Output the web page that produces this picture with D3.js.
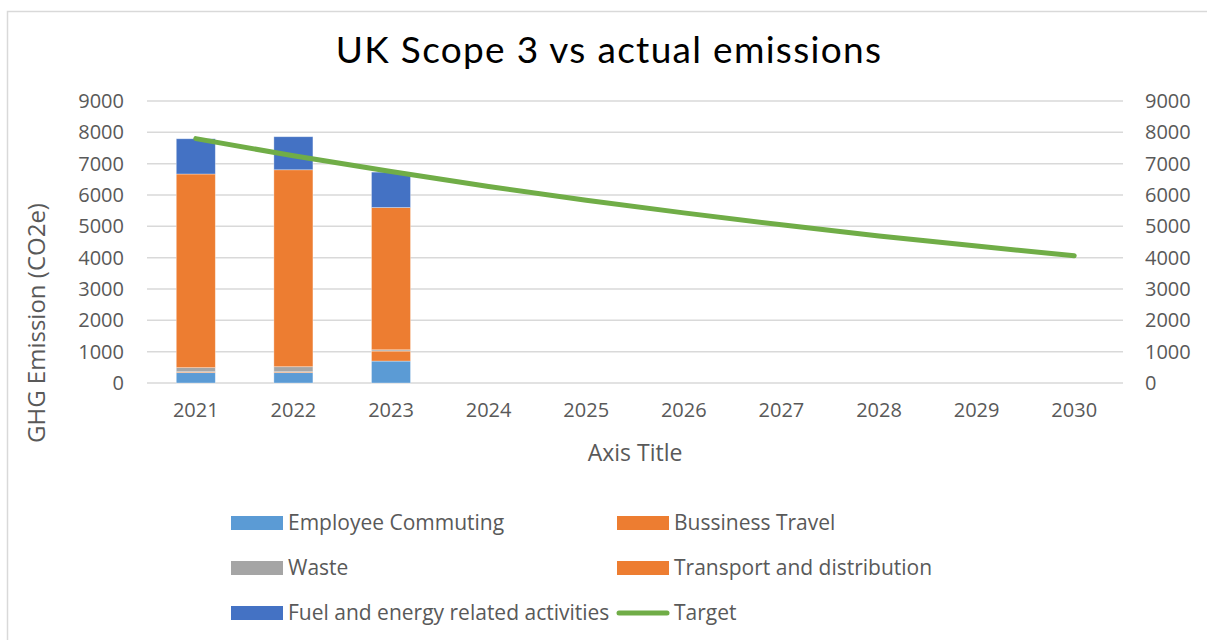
<!DOCTYPE html>
<html>
<head>
<meta charset="utf-8">
<script src="https://cdn.jsdelivr.net/npm/d3@7"></script>
<style>
  body { margin: 0; background: #fff; }
  text { font-family: "Open Sans", sans-serif; fill: #595959; }
</style>
</head>
<body>
<div id="container"></div>
<script>
var width = 1207,
    height = 640,
    margin = { left: 147, top: 101, right: 84, bottom: 257 },
    gWidth = width - margin.left - margin.right,
    gHeight = height - margin.top - margin.bottom;

// data
var years = ['2021', '2022', '2023', '2024', '2025', '2026', '2027', '2028', '2029', '2030'];
var employeeCommuting = [330, 330, 700];
var bussinessTravel = [30, 30, 320];
var waste = [130, 160, 40];
var transport = [6180, 6285, 4540];
var fuelEnergy = [1125, 1055, 1130];
var target = [7800, 7250, 6750, 6270, 5830, 5430, 5050, 4690, 4370, 4060];
var yTicks = [0, 1000, 2000, 3000, 4000, 5000, 6000, 7000, 8000, 9000];

var seriesNames = ['Employee Commuting', 'Bussiness Travel', 'Waste', 'Transport and distribution', 'Fuel and energy related activities'];
var seriesValues = [employeeCommuting, bussinessTravel, waste, transport, fuelEnergy];
var colors = ['#5B9BD5', '#ED7D31', '#A5A5A5', '#ED7D31', '#4472C4'];

var svg = d3.select('#container')
    .append('svg')
    .attr('width', width)
    .attr('height', height);

// chart frame
svg.append('rect')
    .attr('x', 7.5).attr('y', 11.5)
    .attr('width', 1220).attr('height', 650)
    .attr('fill', 'none')
    .attr('stroke', '#D9D9D9')
    .attr('stroke-width', 1.5);

var g = svg.append('g')
    .attr('transform', 'translate(' + margin.left + ',' + margin.top + ')');

var scaleX = d3.scaleBand()
    .domain(years)
    .range([0, gWidth])
    .paddingInner(0.6)
    .paddingOuter(0.3);
var scaleY = d3.scaleLinear()
    .domain([0, 9000])
    .range([gHeight, 0]);

// gridlines
g.selectAll('.grid')
    .data(yTicks)
    .enter().append('line')
    .attr('x1', 0).attr('x2', gWidth)
    .attr('y1', function(d) { return scaleY(d); })
    .attr('y2', function(d) { return scaleY(d); })
    .attr('stroke', '#D9D9D9')
    .attr('stroke-width', 1.5);

// y tick labels, both sides
var yAxisL = d3.axisLeft(scaleY).tickValues(yTicks).tickFormat(d3.format('d')).tickSize(0).tickPadding(23);
var yAxisR = d3.axisRight(scaleY).tickValues(yTicks).tickFormat(d3.format('d')).tickSize(0).tickPadding(22);
var gl = g.append('g').call(yAxisL);
gl.select('.domain').remove();
var gr = g.append('g').attr('transform', 'translate(' + gWidth + ',0)').call(yAxisR);
gr.select('.domain').remove();
g.selectAll('.tick text')
    .style('font-size', '20px')
    .attr('fill', '#595959');

// x tick labels
var xAxis = d3.axisBottom(scaleX).tickSize(0).tickPadding(20);
var gx = g.append('g').attr('transform', 'translate(0,' + gHeight + ')').call(xAxis);
gx.select('.domain').remove();
gx.selectAll('text').style('font-size', '20px').attr('fill', '#595959');

// stacked bars
var table = years.slice(0, 3).map(function(y, i) {
    var row = { year: y };
    seriesNames.forEach(function(s, k) { row[s] = seriesValues[k][i]; });
    return row;
});
var stack = d3.stack().keys(seriesNames)(table);

stack.forEach(function(layer, k) {
    g.selectAll('.bar' + k)
        .data(layer)
        .enter().append('rect')
        .attr('x', function(d) { return scaleX(d.data.year); })
        .attr('width', scaleX.bandwidth())
        .attr('y', function(d) { return scaleY(d[1]); })
        .attr('height', function(d) { return scaleY(d[0]) - scaleY(d[1]); })
        .attr('fill', colors[k])
        .attr('stroke', '#fff')
        .attr('stroke-opacity', 0.45)
        .attr('stroke-width', 0.75);
});

// target line
var lineGenerator = d3.line()
    .x(function(d, i) { return scaleX(years[i]) + scaleX.bandwidth() / 2; })
    .y(function(d) { return scaleY(d); });

g.append('path')
    .attr('d', lineGenerator(target))
    .attr('fill', 'none')
    .attr('stroke', '#70AD47')
    .attr('stroke-width', 5)
    .attr('stroke-linecap', 'round');

// title
svg.append('text')
    .attr('x', 609).attr('y', 63)
    .attr('text-anchor', 'middle')
    .style('font-family', 'Lato, sans-serif')
    .style('font-size', '37px')
    .style('letter-spacing', '1.3px')
    .style('fill', '#000')
    .text('UK Scope 3 vs actual emissions');

// axis titles
svg.append('text')
    .attr('transform', 'translate(45,323) rotate(-90)')
    .attr('text-anchor', 'middle')
    .style('font-size', '24px')
    .text('GHG Emission (CO2e)');

svg.append('text')
    .attr('x', 635).attr('y', 461)
    .attr('text-anchor', 'middle')
    .style('font-size', '23px')
    .text('Axis Title');

// legend
var legendItems = seriesNames.concat(['Target']);
var legend = svg.selectAll('.legend')
    .data(legendItems)
    .enter().append('g')
    .attr('transform', function(d, i) {
        return 'translate(' + (i % 2 === 0 ? 231 : 617) + ',' + (523 + Math.floor(i / 2) * 45) + ')';
    });

legend.each(function(d, i) {
    var el = d3.select(this);
    if (d === 'Target') {
        el.append('line')
            .attr('x1', 2).attr('x2', 50)
            .attr('y1', 0).attr('y2', 0)
            .attr('stroke', '#70AD47')
            .attr('stroke-width', 5)
            .attr('stroke-linecap', 'round');
    } else {
        el.append('rect')
            .attr('x', 0).attr('y', -7)
            .attr('width', 52).attr('height', 14)
            .attr('fill', colors[i]);
    }
    el.append('text')
        .attr('x', 57).attr('y', 7)
        .style('font-size', '21px')
        .text(d);
});
</script>
</body>
</html>
